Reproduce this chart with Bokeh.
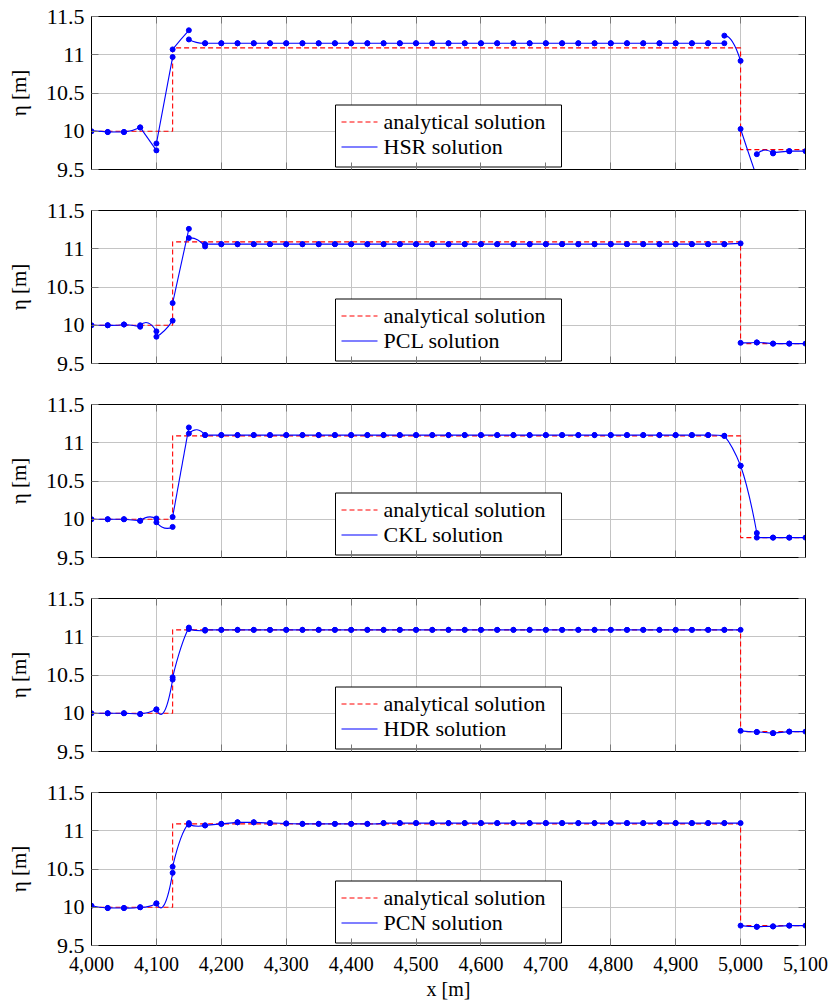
from bokeh.plotting import figure
from bokeh.models import (Range1d, LinearAxis, FixedTicker, ColumnDataSource,
                          CustomJSTickFormatter, NumeralTickFormatter)
from bokeh.core.properties import value
from bokeh.layouts import column
from bokeh.embed import file_html
from bokeh.resources import INLINE

# ---------------- data ----------------
X_NODES = [4000, 4025, 4050, 4075, 4100, 4125, 4150, 4175, 4200, 4225, 4250, 4275, 4300,
           4325, 4350, 4375, 4400, 4425, 4450, 4475, 4500, 4525, 4550, 4575, 4600, 4625,
           4650, 4675, 4700, 4725, 4750, 4775, 4800, 4825, 4850, 4875, 4900, 4925, 4950,
           4975, 5000, 5025, 5050, 5075, 5100]

X_TICKS = [4000, 4100, 4200, 4300, 4400, 4500, 4600, 4700, 4800, 4900, 5000, 5100]
X_TICK_LABELS = ["4,000", "4,100", "4,200", "4,300", "4,400", "4,500", "4,600", "4,700",
                 "4,800", "4,900", "5,000", "5,100"]
Y_TICKS = [9.5, 10, 10.5, 11, 11.5]
Y_TICK_LABELS = ["9.5", "10", "10.5", "11", "11.5"]

ANA_X = [4000, 4125, 4125, 5000, 5000, 5100]
ANA_Y = [10.0, 10.0, 11.09, 11.09, 9.76, 9.76]

SCHEMES = ["HSR", "PCL", "CKL", "HDR", "PCN"]

# per cell: value at left edge, at cell middle, at right edge
HSR_LEFT = [10.00, 9.99, 9.99, 10.05, 9.84, 11.07, 11.20,
            11.15, 11.15, 11.15, 11.15, 11.15, 11.15, 11.15, 11.15,
            11.15, 11.15, 11.15, 11.15, 11.15, 11.15, 11.15, 11.15,
            11.15, 11.15, 11.15, 11.15, 11.15, 11.15, 11.15, 11.15,
            11.15, 11.15, 11.15, 11.15, 11.15, 11.15, 11.15, 11.15,
            11.25, 10.03, 9.70, 9.72, 9.74]
HSR_MID = [10.00, 9.99, 10.01, 9.90, 10.40, 11.20, 11.16,
           11.15, 11.15, 11.15, 11.15, 11.15, 11.15, 11.15, 11.15,
           11.15, 11.15, 11.15, 11.15, 11.15, 11.15, 11.15, 11.15,
           11.15, 11.15, 11.15, 11.15, 11.15, 11.15, 11.15, 11.15,
           11.15, 11.15, 11.15, 11.15, 11.15, 11.15, 11.15, 11.15,
           11.17, 9.71, 9.755, 9.73, 9.74]
HSR_RIGHT = [9.99, 9.99, 10.05, 9.75, 10.97, 11.32, 11.15,
             11.15, 11.15, 11.15, 11.15, 11.15, 11.15, 11.15, 11.15,
             11.15, 11.15, 11.15, 11.15, 11.15, 11.15, 11.15, 11.15,
             11.15, 11.15, 11.15, 11.15, 11.15, 11.15, 11.15, 11.15,
             11.15, 11.15, 11.15, 11.15, 11.15, 11.15, 11.15, 11.15,
             10.92, 9.40, 9.71, 9.74, 9.74]

PCL_LEFT = [10.00, 10.00, 10.01, 10.00, 9.85, 10.29, 11.14, 11.06,
            11.06, 11.06, 11.06, 11.06, 11.06, 11.06, 11.06, 11.06,
            11.06, 11.06, 11.06, 11.06, 11.06, 11.06, 11.06, 11.06,
            11.06, 11.06, 11.06, 11.06, 11.06, 11.06, 11.06, 11.06,
            11.06, 11.06, 11.06, 11.06, 11.06, 11.06, 11.06, 11.06,
            9.77, 9.775, 9.76, 9.76]
PCL_MID = [10.00, 10.00, 10.00, 10.03, 9.93, 10.78, 11.12, 11.06,
           11.06, 11.06, 11.06, 11.06, 11.06, 11.06, 11.06, 11.06,
           11.06, 11.06, 11.06, 11.06, 11.06, 11.06, 11.06, 11.06,
           11.06, 11.06, 11.06, 11.06, 11.06, 11.06, 11.06, 11.06,
           11.06, 11.06, 11.06, 11.06, 11.06, 11.06, 11.06, 11.065,
           9.77, 9.77, 9.76, 9.76]
PCL_RIGHT = [10.00, 10.01, 9.98, 9.92, 10.06, 11.26, 11.03, 11.06,
             11.06, 11.06, 11.06, 11.06, 11.06, 11.06, 11.06, 11.06,
             11.06, 11.06, 11.06, 11.06, 11.06, 11.06, 11.06, 11.06,
             11.06, 11.06, 11.06, 11.06, 11.06, 11.06, 11.06, 11.06,
             11.06, 11.06, 11.06, 11.06, 11.06, 11.06, 11.06, 11.07,
             9.775, 9.76, 9.76, 9.76]

CKL_LEFT = [10.00, 10.00, 10.00, 9.98, 9.96, 10.03, 11.12,
            11.10, 11.10, 11.10, 11.10, 11.10, 11.10, 11.10, 11.10,
            11.10, 11.10, 11.10, 11.10, 11.10, 11.10, 11.10, 11.10,
            11.10, 11.10, 11.10, 11.10, 11.10, 11.10, 11.10, 11.10,
            11.10, 11.10, 11.10, 11.10, 11.10, 11.10, 11.10, 11.10,
            11.09, 10.70, 9.76, 9.76, 9.76]
CKL_MID = [10.00, 10.00, 9.99, 10.03, 9.885, 10.62, 11.17,
           11.10, 11.10, 11.10, 11.10, 11.10, 11.10, 11.10, 11.10,
           11.10, 11.10, 11.10, 11.10, 11.10, 11.10, 11.10, 11.10,
           11.10, 11.10, 11.10, 11.10, 11.10, 11.10, 11.10, 11.10,
           11.10, 11.10, 11.10, 11.10, 11.10, 11.10, 11.10, 11.10,
           10.93, 10.33, 9.76, 9.76, 9.76]
CKL_RIGHT = [10.00, 10.00, 9.98, 10.01, 9.90, 11.20, 11.10,
             11.10, 11.10, 11.10, 11.10, 11.10, 11.10, 11.10, 11.10,
             11.10, 11.10, 11.10, 11.10, 11.10, 11.10, 11.10, 11.10,
             11.10, 11.10, 11.10, 11.10, 11.10, 11.10, 11.10, 11.10,
             11.10, 11.10, 11.10, 11.10, 11.10, 11.10, 11.10, 11.09,
             10.70, 9.82, 9.76, 9.76, 9.76]

HDR_LEFT = [10.00, 10.00, 10.00, 9.99, 10.05, 10.47, 11.10,
            11.09, 11.09, 11.09, 11.09, 11.09, 11.09, 11.09, 11.09,
            11.09, 11.09, 11.09, 11.09, 11.09, 11.09, 11.09, 11.09,
            11.09, 11.09, 11.09, 11.09, 11.09, 11.09, 11.09, 11.09,
            11.09, 11.09, 11.09, 11.09, 11.09, 11.09, 11.09, 11.09, 11.09,
            9.77, 9.755, 9.74, 9.76]
HDR_MID = [10.00, 10.00, 9.995, 10.01, 10.03, 10.85, 11.08,
           11.09, 11.09, 11.09, 11.09, 11.09, 11.09, 11.09, 11.09,
           11.09, 11.09, 11.09, 11.09, 11.09, 11.09, 11.09, 11.09,
           11.09, 11.09, 11.09, 11.09, 11.09, 11.09, 11.09, 11.09,
           11.09, 11.09, 11.09, 11.09, 11.09, 11.09, 11.09, 11.09, 11.09,
           9.76, 9.75, 9.75, 9.76]
HDR_RIGHT = [10.00, 10.00, 9.99, 10.05, 10.44, 11.12, 11.08,
             11.09, 11.09, 11.09, 11.09, 11.09, 11.09, 11.09, 11.09,
             11.09, 11.09, 11.09, 11.09, 11.09, 11.09, 11.09, 11.09,
             11.09, 11.09, 11.09, 11.09, 11.09, 11.09, 11.09, 11.09,
             11.09, 11.09, 11.09, 11.09, 11.09, 11.09, 11.09, 11.09, 11.09,
             9.755, 9.74, 9.76, 9.76]

PCN_LEFT = [10.02, 9.99, 9.99, 10.00, 10.05, 10.53, 11.08, 11.07, 11.09, 11.11, 11.11,
            11.10, 11.095, 11.09, 11.09, 11.09, 11.09, 11.09,
            11.10, 11.10, 11.10, 11.10, 11.10, 11.10, 11.10, 11.10,
            11.10, 11.10, 11.10, 11.10, 11.10, 11.10, 11.10, 11.10,
            11.10, 11.10, 11.10, 11.10, 11.10, 11.10,
            9.76, 9.745, 9.75, 9.76]
PCN_MID = [10.00, 9.99, 9.99, 10.01, 10.04, 10.90, 11.06, 11.08, 11.10, 11.11, 11.105,
           11.10, 11.09, 11.09, 11.09, 11.09, 11.09, 11.09,
           11.10, 11.10, 11.10, 11.10, 11.10, 11.10, 11.10, 11.10,
           11.10, 11.10, 11.10, 11.10, 11.10, 11.10, 11.10, 11.10,
           11.10, 11.10, 11.10, 11.10, 11.10, 11.10,
           9.75, 9.75, 9.755, 9.76]
PCN_RIGHT = [9.99, 9.99, 10.00, 10.05, 10.45, 11.10, 11.07, 11.09, 11.11, 11.11, 11.10,
             11.095, 11.09, 11.09, 11.09, 11.09, 11.09, 11.10,
             11.10, 11.10, 11.10, 11.10, 11.10, 11.10, 11.10, 11.10,
             11.10, 11.10, 11.10, 11.10, 11.10, 11.10, 11.10, 11.10,
             11.10, 11.10, 11.10, 11.10, 11.10, 11.10,
             9.745, 9.75, 9.76, 9.76]

SERIES = {
    "HSR": (HSR_LEFT, HSR_MID, HSR_RIGHT),
    "PCL": (PCL_LEFT, PCL_MID, PCL_RIGHT),
    "CKL": (CKL_LEFT, CKL_MID, CKL_RIGHT),
    "HDR": (HDR_LEFT, HDR_MID, HDR_RIGHT),
    "PCN": (PCN_LEFT, PCN_MID, PCN_RIGHT),
}

# ---------------- style / layout ----------------
SERIF = "Liberation Serif"
FS_YTICK = "22px"
FS_XTICK = "20px"
FS_LEG = "22px"
GRID_C = "#c4c4c4"
TICK_C = "#777777"
X0, X1, Y0, Y1 = 4000, 5100, 9.5, 11.5
FRAME_W, FRAME_H = 714, 153
EXTRA_TOP = 12          # figures overlap a little so top tick labels are not cut


def empty_fmt():
    return CustomJSTickFormatter(code="return ''")


def fx(px):   # frame-relative pixel -> data x (legend placement only)
    return X0 + px * (X1 - X0) / FRAME_W


def fy(py):   # frame-relative pixel (from bottom) -> data y
    return Y0 + py * (Y1 - Y0) / FRAME_H


def make_panel(idx, name, last):
    yl, ym, yr = SERIES[name]
    first = idx == 0
    top = 16 if first else 8 + EXTRA_TOP
    bottom = 60 if last else 33
    p = figure(width=828, height=top + FRAME_H + bottom,
               x_range=Range1d(X0, X1), y_range=Range1d(Y0, Y1),
               output_backend="svg", toolbar_location=None,
               min_border_left=91, min_border_right=23, min_border_top=top,
               min_border_bottom=bottom,
               margin=(0 if first else -EXTRA_TOP, 0, 0, 0))
    p.outline_line_color = "black"
    p.outline_line_width = 1
    p.background_fill_color = "white"
    p.border_fill_color = None

    # grids
    p.xgrid.ticker = FixedTicker(ticks=X_TICKS)
    p.ygrid.ticker = FixedTicker(ticks=Y_TICKS)
    for g in (p.xgrid, p.ygrid):
        g.grid_line_color = GRID_C
        g.grid_line_width = 1

    xa = p.xaxis[0]
    xa.ticker = FixedTicker(ticks=X_TICKS)
    if last:
        xa.formatter = NumeralTickFormatter(format="0,0")
        xa.major_label_overrides = {t: s for t, s in zip(X_TICKS, X_TICK_LABELS)}
        xa.axis_label = "x [m]"
        xa.axis_label_standoff = 4
        xa.axis_label_text_font = SERIF
        xa.axis_label_text_font_size = "20px"
        xa.axis_label_text_font_style = "normal"
        xa.axis_label_text_color = "black"
    else:
        xa.formatter = empty_fmt()
    ya = p.yaxis[0]
    ya.ticker = FixedTicker(ticks=Y_TICKS)
    ya.formatter = NumeralTickFormatter(format="0.[0]")
    ya.major_label_overrides = {t: s for t, s in zip(Y_TICKS, Y_TICK_LABELS)}
    ya.axis_label = "η [m]"
    ya.axis_label_standoff = 12
    ya.axis_label_text_font = SERIF
    ya.axis_label_text_font_size = "21px"
    ya.axis_label_text_font_style = "normal"
    ya.axis_label_text_color = "black"

    ra = LinearAxis(ticker=FixedTicker(ticks=Y_TICKS), formatter=empty_fmt())
    ta = LinearAxis(ticker=FixedTicker(ticks=X_TICKS), formatter=empty_fmt())
    p.add_layout(ra, "right")
    p.add_layout(ta, "above")

    for ax in (xa, ya, ra, ta):
        ax.axis_line_color = "black"
        ax.major_tick_in = 7
        ax.major_tick_out = 0
        ax.major_tick_line_color = TICK_C
        ax.minor_tick_line_color = None
        ax.major_label_text_font = SERIF
        ax.major_label_text_font_size = FS_YTICK
        ax.major_label_text_color = "black"
    xa.major_label_standoff = 11
    xa.major_label_text_font_size = FS_XTICK
    ya.major_label_standoff = 7
    ra.major_label_standoff = 0
    ta.major_label_standoff = 0

    # analytical solution
    p.line(ANA_X, ANA_Y, line_color="red", line_width=1.1, line_dash="5 3")

    # numerical solution: one curved piece per cell plus edge dots
    x0 = X_NODES[:-1]
    x1 = X_NODES[1:]
    cx = [(a + b) / 2 for a, b in zip(x0, x1)]
    cy = [2 * m - (l + r) / 2 for l, m, r in zip(yl, ym, yr)]
    src = ColumnDataSource(dict(x0=x0, x1=x1, y0=yl, y1=yr, cx=cx, cy=cy))
    p.quadratic(x0="x0", y0="y0", x1="x1", y1="y1", cx="cx", cy="cy",
                source=src, line_color="blue", line_width=1.1)
    p.scatter(x=list(x0) + list(x1), y=list(yl) + list(yr), size=5,
              fill_color="blue", line_color="blue", marker="circle")

    # legend box (drawn by hand so the sample colours are kept)
    p.quad(left=[fx(244)], right=[fx(470)], bottom=[fy(2.5)], top=[fy(64.5)],
           fill_color="white", line_color="black", line_width=1)
    p.line([fx(250), fx(286)], [fy(47.5), fy(47.5)], line_color="red", line_width=1.2,
           line_dash="5 3")
    p.line([fx(250), fx(286)], [fy(22.5), fy(22.5)], line_color="blue", line_width=1.2)
    p.text(x=[fx(292), fx(292)], y=[fy(48), fy(23)],
           text=["analytical solution", f"{name} solution"],
           text_font=value(SERIF), text_font_size=value(FS_LEG),
           text_baseline="middle", text_align="left", text_color="black")
    return p


panels = [make_panel(i, n, i == len(SCHEMES) - 1) for i, n in enumerate(SCHEMES)]
layout = column(*panels)
open("out.html", "w").write(file_html(layout, INLINE))
